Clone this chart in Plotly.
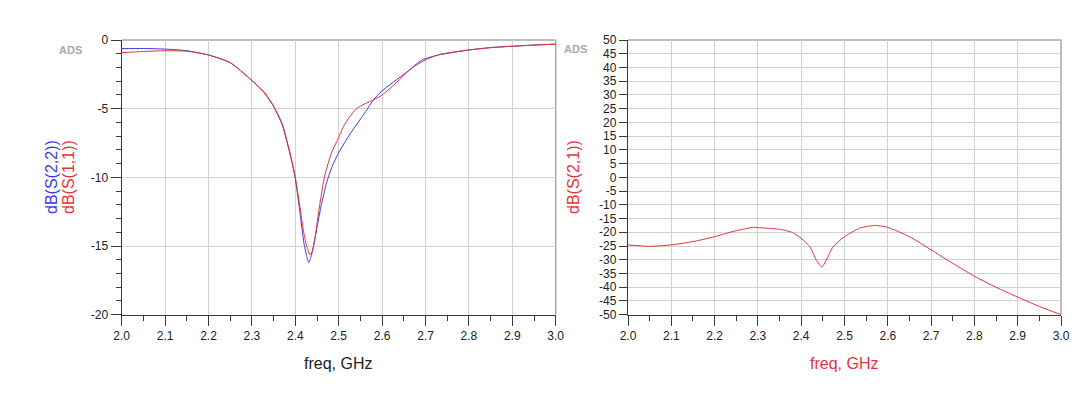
import plotly.graph_objects as go

# ---- data ----
freq_s22 = [2.00, 2.05, 2.10, 2.15, 2.20, 2.25, 2.30, 2.33, 2.35, 2.37, 2.39, 2.40, 2.41,
            2.42, 2.426, 2.431, 2.437, 2.445, 2.452, 2.46, 2.472, 2.485, 2.50, 2.527, 2.557,
            2.58, 2.60, 2.653, 2.692, 2.73, 2.80, 2.85, 2.90, 2.95, 3.00]
s22_db = [-0.63, -0.62, -0.66, -0.78, -1.09, -1.65, -2.95, -3.9, -4.85, -6.2, -8.6, -10.1, -12.4,
          -14.8, -15.7, -16.2, -15.7, -14.5, -13.3, -12.0, -10.4, -9.2, -8.2, -6.8, -5.45,
          -4.37, -3.7, -2.43, -1.46, -1.09, -0.73, -0.55, -0.45, -0.37, -0.3]

freq_s11 = [2.00, 2.05, 2.10, 2.15, 2.20, 2.25, 2.30, 2.33, 2.35, 2.37, 2.39, 2.40, 2.41,
            2.42, 2.427, 2.434, 2.44, 2.446, 2.452, 2.467, 2.483, 2.50, 2.511, 2.525, 2.541,
            2.56, 2.58, 2.60, 2.633, 2.67, 2.70, 2.733, 2.80, 2.85, 2.90, 2.95, 3.00]
s11_db = [-0.92, -0.84, -0.78, -0.82, -1.09, -1.65, -2.95, -3.85, -4.8, -6.1, -8.5, -10.0, -12.0,
          -14.1, -15.1, -15.65, -15.3, -14.3, -12.9, -10.0, -8.25, -7.1, -6.3, -5.6, -5.0,
          -4.65, -4.37, -4.0, -3.1, -2.0, -1.45, -1.05, -0.72, -0.56, -0.46, -0.37, -0.3]

freq_s21 = [2.00, 2.05, 2.10, 2.15, 2.20, 2.25, 2.29, 2.30, 2.35, 2.38, 2.40, 2.42, 2.435,
            2.448, 2.458, 2.474, 2.50, 2.535, 2.57, 2.60, 2.65, 2.70, 2.75, 2.80, 2.85,
            2.90, 2.95, 3.00]
s21_db = [-24.6, -25.1, -24.6, -23.4, -21.6, -19.4, -18.2, -18.3, -18.9, -20.1, -22.2, -25.2, -30.1,
          -32.7, -30.1, -25.2, -21.6, -18.5, -17.5, -18.2, -21.6, -26.4, -31.3, -36.0, -40.0,
          -43.6, -47.0, -50.0]

x_ticks = [2.0, 2.1, 2.2, 2.3, 2.4, 2.5, 2.6, 2.7, 2.8, 2.9, 3.0]
x_tick_text = ["2.0", "2.1", "2.2", "2.3", "2.4", "2.5", "2.6", "2.7", "2.8", "2.9", "3.0"]
y1_ticks = [0, -5, -10, -15, -20]
y1_tick_text = ["0", "-5", "-10", "-15", "-20"]
y2_ticks = [50, 45, 40, 35, 30, 25, 20, 15, 10, 5, 0, -5, -10, -15, -20, -25, -30, -35, -40, -45, -50]
y2_tick_text = ["50", "45", "40", "35", "30", "25", "20", "15", "10", "5", "0", "-5", "-10", "-15",
                "-20", "-25", "-30", "-35", "-40", "-45", "-50"]

BLUE = "#3b3bdc"
RED = "#e2343a"
FONT = "Liberation Sans, Arial, sans-serif"

OFF = 8  # page body margin
W, H = 1080 - OFF, 393 - OFF
def px(x):
    return (x - OFF) / W
def py(y):
    return 1 - (y - OFF) / H

L1, R1 = 121.7, 555.7
L2, R2 = 628.0, 1061.0
T, B = 40.0, 314.7

fig = go.Figure()
fig.add_trace(go.Scatter(x=freq_s22, y=s22_db, mode="lines", line=dict(color=BLUE, width=1, shape="spline", smoothing=0.6),
                         xaxis="x", yaxis="y", showlegend=False))
fig.add_trace(go.Scatter(x=freq_s11, y=s11_db, mode="lines", line=dict(color=RED, width=1, shape="spline", smoothing=0.6),
                         xaxis="x", yaxis="y", showlegend=False))
fig.add_trace(go.Scatter(x=freq_s21, y=s21_db, mode="lines", line=dict(color=RED, width=1, shape="spline", smoothing=0.6),
                         xaxis="x2", yaxis="y2", showlegend=False))

axis_common = dict(showline=True, linecolor="#3a3a3a", linewidth=1.3, ticks="outside",
                   tickcolor="#3a3a3a", tickwidth=1.3, ticklen=10, zeroline=False, automargin=False,
                   showgrid=True, gridcolor="#d2d2d2", gridwidth=1,
                   tickfont=dict(family=FONT, size=12, color="#222"))

fig.update_layout(
    width=W, height=H, margin=dict(l=0, r=0, t=0, b=0, pad=0), autosize=False,
    paper_bgcolor="white", plot_bgcolor="white",
    xaxis=dict(domain=[px(L1), px(R1)], anchor="y", range=[2.0, 3.0], tickvals=x_ticks, ticktext=x_tick_text,
               minor=dict(dtick=0.05, tick0=2.0, ticks="outside", ticklen=5, tickcolor="#3a3a3a", showgrid=False),
               **axis_common),
    yaxis=dict(domain=[py(B), py(T)], anchor="x", range=[-20, 0], tickvals=y1_ticks, ticktext=y1_tick_text,
               minor=dict(dtick=1, tick0=0, ticks="outside", ticklen=5, tickcolor="#3a3a3a", showgrid=False),
               **axis_common),
    xaxis2=dict(domain=[px(L2), px(R2)], anchor="y2", range=[2.0, 3.0], tickvals=x_ticks, ticktext=x_tick_text,
                minor=dict(dtick=0.05, tick0=2.0, ticks="outside", ticklen=5, tickcolor="#3a3a3a", showgrid=False),
                **axis_common),
    yaxis2=dict(domain=[py(B), py(T)], anchor="x2", range=[-50, 50], tickvals=y2_ticks, ticktext=y2_tick_text,
                **{**axis_common, "ticklen": 8}),
)

# top/right borders
for l, r in ((L1, R1), (L2, R2)):
    fig.add_shape(type="line", xref="paper", yref="paper", x0=px(l), x1=px(r), y0=py(T), y1=py(T),
                  line=dict(color="#a8a8a8", width=1.5), layer="below")
    fig.add_shape(type="line", xref="paper", yref="paper", x0=px(r), x1=px(r), y0=py(T), y1=py(B),
                  line=dict(color="#a8a8a8", width=1.5), layer="below")

def ann(text, x, y, color, size=16, angle=0, bold=False):
    fig.add_annotation(text=("<b>%s</b>" % text) if bold else text, xref="paper", yref="paper",
                       x=px(x), y=py(y), xanchor="center", yanchor="middle", showarrow=False,
                       textangle=angle, font=dict(family=FONT, size=size, color=color))

ann("dB(S(2,2))", 51, 177, BLUE, angle=-90)
ann("dB(S(1,1))", 68, 177, RED, angle=-90)
ann("dB(S(2,1))", 573, 177, RED, angle=-90)
ann("freq, GHz", 338, 363, "#222")
ann("freq, GHz", 844, 363, RED)
ann("ADS", 70, 50, "#a9a9a9", size=11, bold=True)
ann("ADS", 575, 49, "#a9a9a9", size=11, bold=True)

fig.write_html("out.html")
